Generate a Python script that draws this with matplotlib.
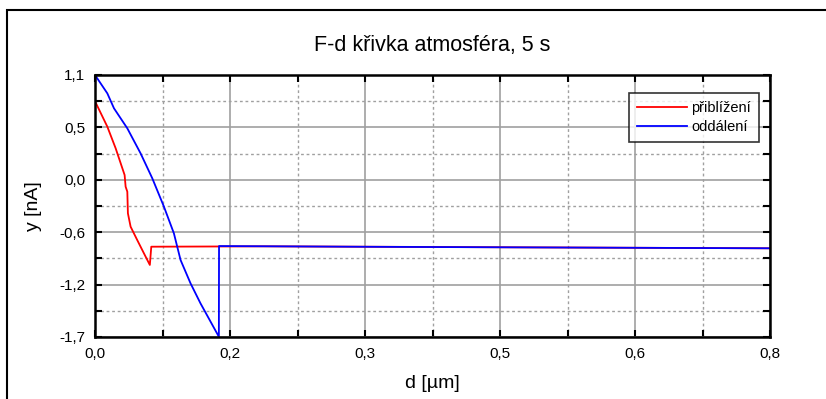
import matplotlib
matplotlib.use("Agg")
import matplotlib.pyplot as plt
from matplotlib.patches import Rectangle

plt.rcParams["font.family"] = ["Liberation Sans", "DejaVu Sans"]

# approach curve (přiblížení)
approach_x = [0.0, 0.0146, 0.0245, 0.0351, 0.0363, 0.0383, 0.039, 0.0422,
              0.050, 0.058, 0.065, 0.0667, 0.20, 0.40, 0.60, 0.80]
approach_y = [0.82, 0.548, 0.316, 0.031, -0.094, -0.147, -0.378, -0.521,
              -0.663, -0.806, -0.93, -0.735, -0.731, -0.738, -0.745, -0.752]

# retract curve (oddálení)
retract_x = [0.0, 0.0146, 0.0225, 0.0383, 0.054, 0.0679, 0.0817, 0.0935,
             0.1014, 0.1132, 0.125, 0.1468, 0.1470, 0.30, 0.50, 0.80]
retract_y = [1.1, 0.904, 0.744, 0.530, 0.263, -0.004, -0.307, -0.592,
             -0.877, -1.126, -1.34, -1.697, -0.728, -0.735, -0.742, -0.752]

x_ticks = [0.0, 0.16, 0.32, 0.48, 0.64, 0.8]
x_labels = ["0,0", "0,2", "0,3", "0,5", "0,6", "0,8"]
y_ticks = [-1.7, -1.14, -0.58, -0.02, 0.54, 1.1]
y_labels = ["-1,7", "-1,2", "-0,6", "0,0", "0,5", "1,1"]

fig = plt.figure(figsize=(8.26, 3.99), dpi=100)
ax = fig.add_axes([95 / 826, 62 / 399, 675 / 826, 262 / 399])

# outer frame
fig.patches.append(Rectangle((7 / 826, -0.1), 1.1, (399 - 10) / 399 + 0.1,
                             transform=fig.transFigure, fill=False,
                             edgecolor="black", linewidth=1.5))

ax.plot(approach_x, approach_y, color="#ff0000", linewidth=1.3, label="přiblížení")
ax.plot(retract_x, retract_y, color="#0000ff", linewidth=1.3, label="oddálení")

ax.set_xlim(0, 0.8)
ax.set_ylim(-1.7, 1.1)
ax.set_xticks(x_ticks)
ax.set_xticklabels(x_labels)
ax.set_yticks(y_ticks)
ax.set_yticklabels(y_labels)

minor_x = [(x_ticks[i] + x_ticks[i + 1]) / 2 for i in range(len(x_ticks) - 1)]
minor_y = [(y_ticks[i] + y_ticks[i + 1]) / 2 for i in range(len(y_ticks) - 1)]
ax.set_xticks(minor_x, minor=True)
ax.set_yticks(minor_y, minor=True)

ax.grid(which="major", color="#a0a0a0", linestyle="-", linewidth=1.2)
ax.grid(which="minor", color="#a0a0a0", linestyle=(0, (2, 2)), linewidth=1.0)
ax.set_axisbelow(True)

ax.tick_params(which="major", direction="in", length=5, width=1.5,
               top=True, right=True, labelsize=11, pad=7)
ax.tick_params(which="minor", direction="in", length=5, width=1.5,
               top=True, right=True)
for s in ax.spines.values():
    s.set_linewidth(1.8)

ax.set_xlabel("d [µm]", fontsize=14, labelpad=10)
ax.set_ylabel("y [nA]", fontsize=14, labelpad=12)
ax.set_title("F-d křivka atmosféra, 5 s", fontsize=15.5, pad=17)

leg = ax.legend(loc="upper right", bbox_to_anchor=(0.984, 0.931), fontsize=10.5,
                frameon=True, fancybox=False, edgecolor="black",
                handlelength=3.4, handletextpad=0.3, borderpad=0.55,
                labelspacing=0.35, borderaxespad=0)
leg.get_frame().set_linewidth(1.2)

fig.savefig("out.png", dpi=100)
